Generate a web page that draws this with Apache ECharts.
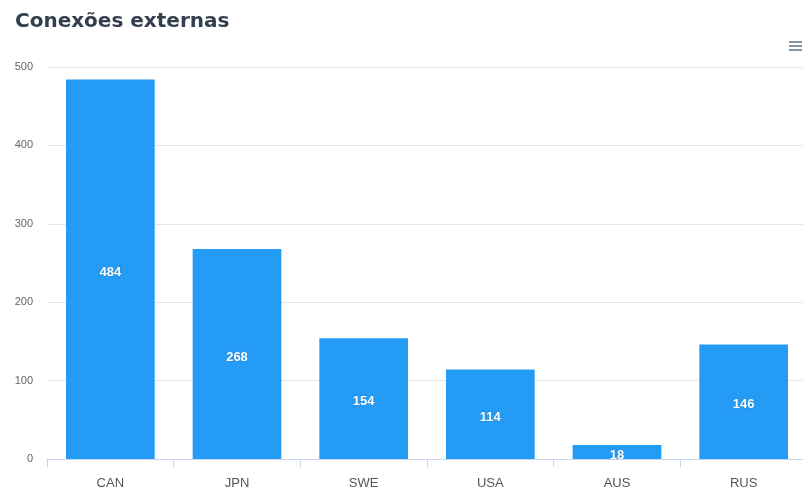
<!DOCTYPE html>
<html><head><meta charset="utf-8">
<script src="https://cdn.jsdelivr.net/npm/echarts@6/dist/echarts.min.js"></script>
<style>html,body{margin:0;padding:0;background:#fff}#c{width:803px;height:493px}</style>
</head><body><div id="c"></div>
<script>
const categories = ['CAN','JPN','SWE','USA','AUS','RUS'];
const values = [484, 268, 154, 114, 18, 146];
const yTicks = [0, 100, 200, 300, 400, 500];

const chart = echarts.init(document.getElementById('c'), null, {renderer:'canvas'});
chart.setOption({
  animation:false,
  title:{text:'Conexões externas', left:10, top:7,
    textStyle:{fontFamily:'"DejaVu Sans", Verdana, sans-serif', fontSize:20, fontWeight:'bold', color:'#333f50'}},
  graphic:[
    {type:'rect', shape:{x:789,y:41,width:13,height:2}, style:{fill:'#8595a8'}},
    {type:'rect', shape:{x:789,y:45,width:13,height:2}, style:{fill:'#8595a8'}},
    {type:'rect', shape:{x:789,y:49,width:13,height:2}, style:{fill:'#8595a8'}}
  ],
  grid:{left:47, top:67, width:760, height:392, containLabel:false, outerBoundsMode:'none'},
  xAxis:{type:'category', data:categories,
    axisLine:{lineStyle:{color:'#ccd6eb', width:1}},
    axisTick:{show:true, alignWithLabel:false, length:8, lineStyle:{color:'#ccd6eb'}},
    axisLabel:{color:'#555', fontSize:13, margin:18, fontFamily:'"Liberation Sans", Arial, sans-serif'}},
  yAxis:{type:'value', min:yTicks[0], max:yTicks[yTicks.length-1], interval:100,
    axisLine:{show:false}, axisTick:{show:false},
    splitLine:{lineStyle:{color:'#e6e6e6'}},
    axisLabel:{color:'#666', fontSize:11, margin:14, fontFamily:'"Liberation Sans", Arial, sans-serif'}},
  series:[{type:'bar', data:values, barWidth:'70%',
    itemStyle:{color:'#249cf6'},
    label:{show:true, position:'inside', offset:[0,3], color:'#fff', fontWeight:'bold', fontSize:13,
      fontFamily:'"Liberation Sans", Arial, sans-serif', textBorderColor:'rgba(0,0,0,0.15)', textBorderWidth:1}
  }]
});
</script></body></html>
